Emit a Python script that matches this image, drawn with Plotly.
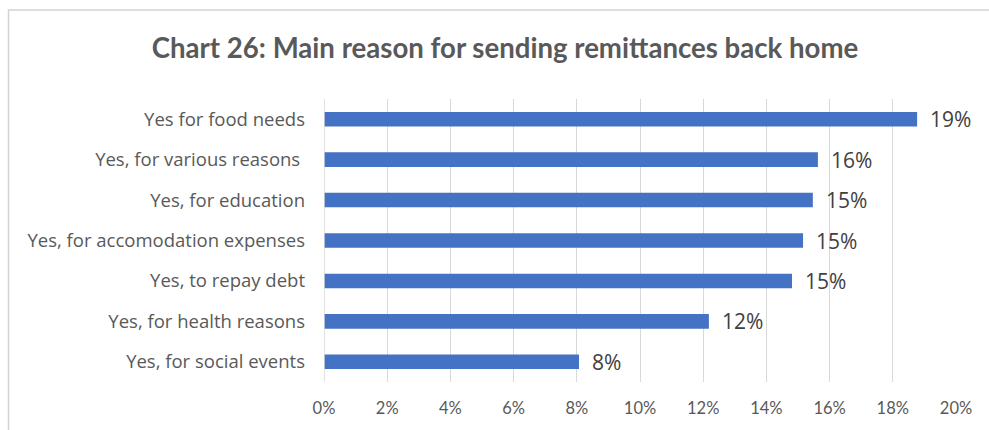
import plotly.graph_objects as go

categories = [
    "Yes for food needs",
    "Yes, for various reasons ",
    "Yes, for education",
    "Yes, for accomodation expenses",
    "Yes, to repay debt",
    "Yes, for health reasons",
    "Yes, for social events",
]
values = [18.77, 15.63, 15.47, 15.16, 14.81, 12.18, 8.07]
tick_vals = [0, 2, 4, 6, 8, 10, 12, 14, 16, 18, 20]
tick_text = [f"{v}%" for v in tick_vals]
title = "Chart 26: Main reason for sending remittances back home"

W, H = 989, 430
ml, mr, mt, mb = 324, 33, 99, 48
pw = W - ml - mr
ph = H - mt - mb

fig = go.Figure(go.Bar(
    x=values, y=categories, orientation="h",
    marker=dict(color="#4472C4", line=dict(width=0)),
    width=0.36,
    hoverinfo="skip",
))

for c, v in zip(categories, values):
    fig.add_annotation(x=v, y=c, xref="x", yref="y", text=f"{round(v):.0f}%",
                       showarrow=False, xanchor="left", xshift=11,
                       font=dict(family="Open Sans", size=21, color="#404040"))

# chart border (extends past right and bottom edges)
fig.add_shape(type="rect", xref="paper", yref="paper",
              x0=(8.5 - ml) / pw, x1=(W + 20 - ml) / pw,
              y0=-(mb + 20) / ph,
              y1=(H - mb - 10) / ph,
              line=dict(color="#D3D3D3", width=1.5), layer="below")

fig.update_layout(
    width=W, height=H,
    margin=dict(l=ml, r=mr, t=mt, b=mb),
    paper_bgcolor="white", plot_bgcolor="white",
    showlegend=False,
    title=dict(text=f"<b>{title}</b>", x=505 / W, xanchor="center",
               y=1 - 48 / H, yanchor="middle",
               font=dict(family="Lato", size=27.6, color="#595959")),
    xaxis=dict(range=[0, 20], tickvals=tick_vals, ticktext=tick_text,
               showgrid=True, gridcolor="#D9D9D9", gridwidth=1,
               zeroline=False, showline=False, ticks="",
               tickfont=dict(family="Lato", size=16.5, color="#595959"),
               ticklabelstandoff=14),
    yaxis=dict(autorange="reversed", showgrid=False, zeroline=False,
               showline=False, ticks="", ticklabelstandoff=18,
               tickfont=dict(family="Open Sans", size=18.5, color="#595959")),
)
fig.add_shape(type="line", xref="x", yref="paper", x0=0, x1=0, y0=0, y1=1,
              line=dict(color="#D9D9D9", width=1.5))

fig.write_html("out.html")
